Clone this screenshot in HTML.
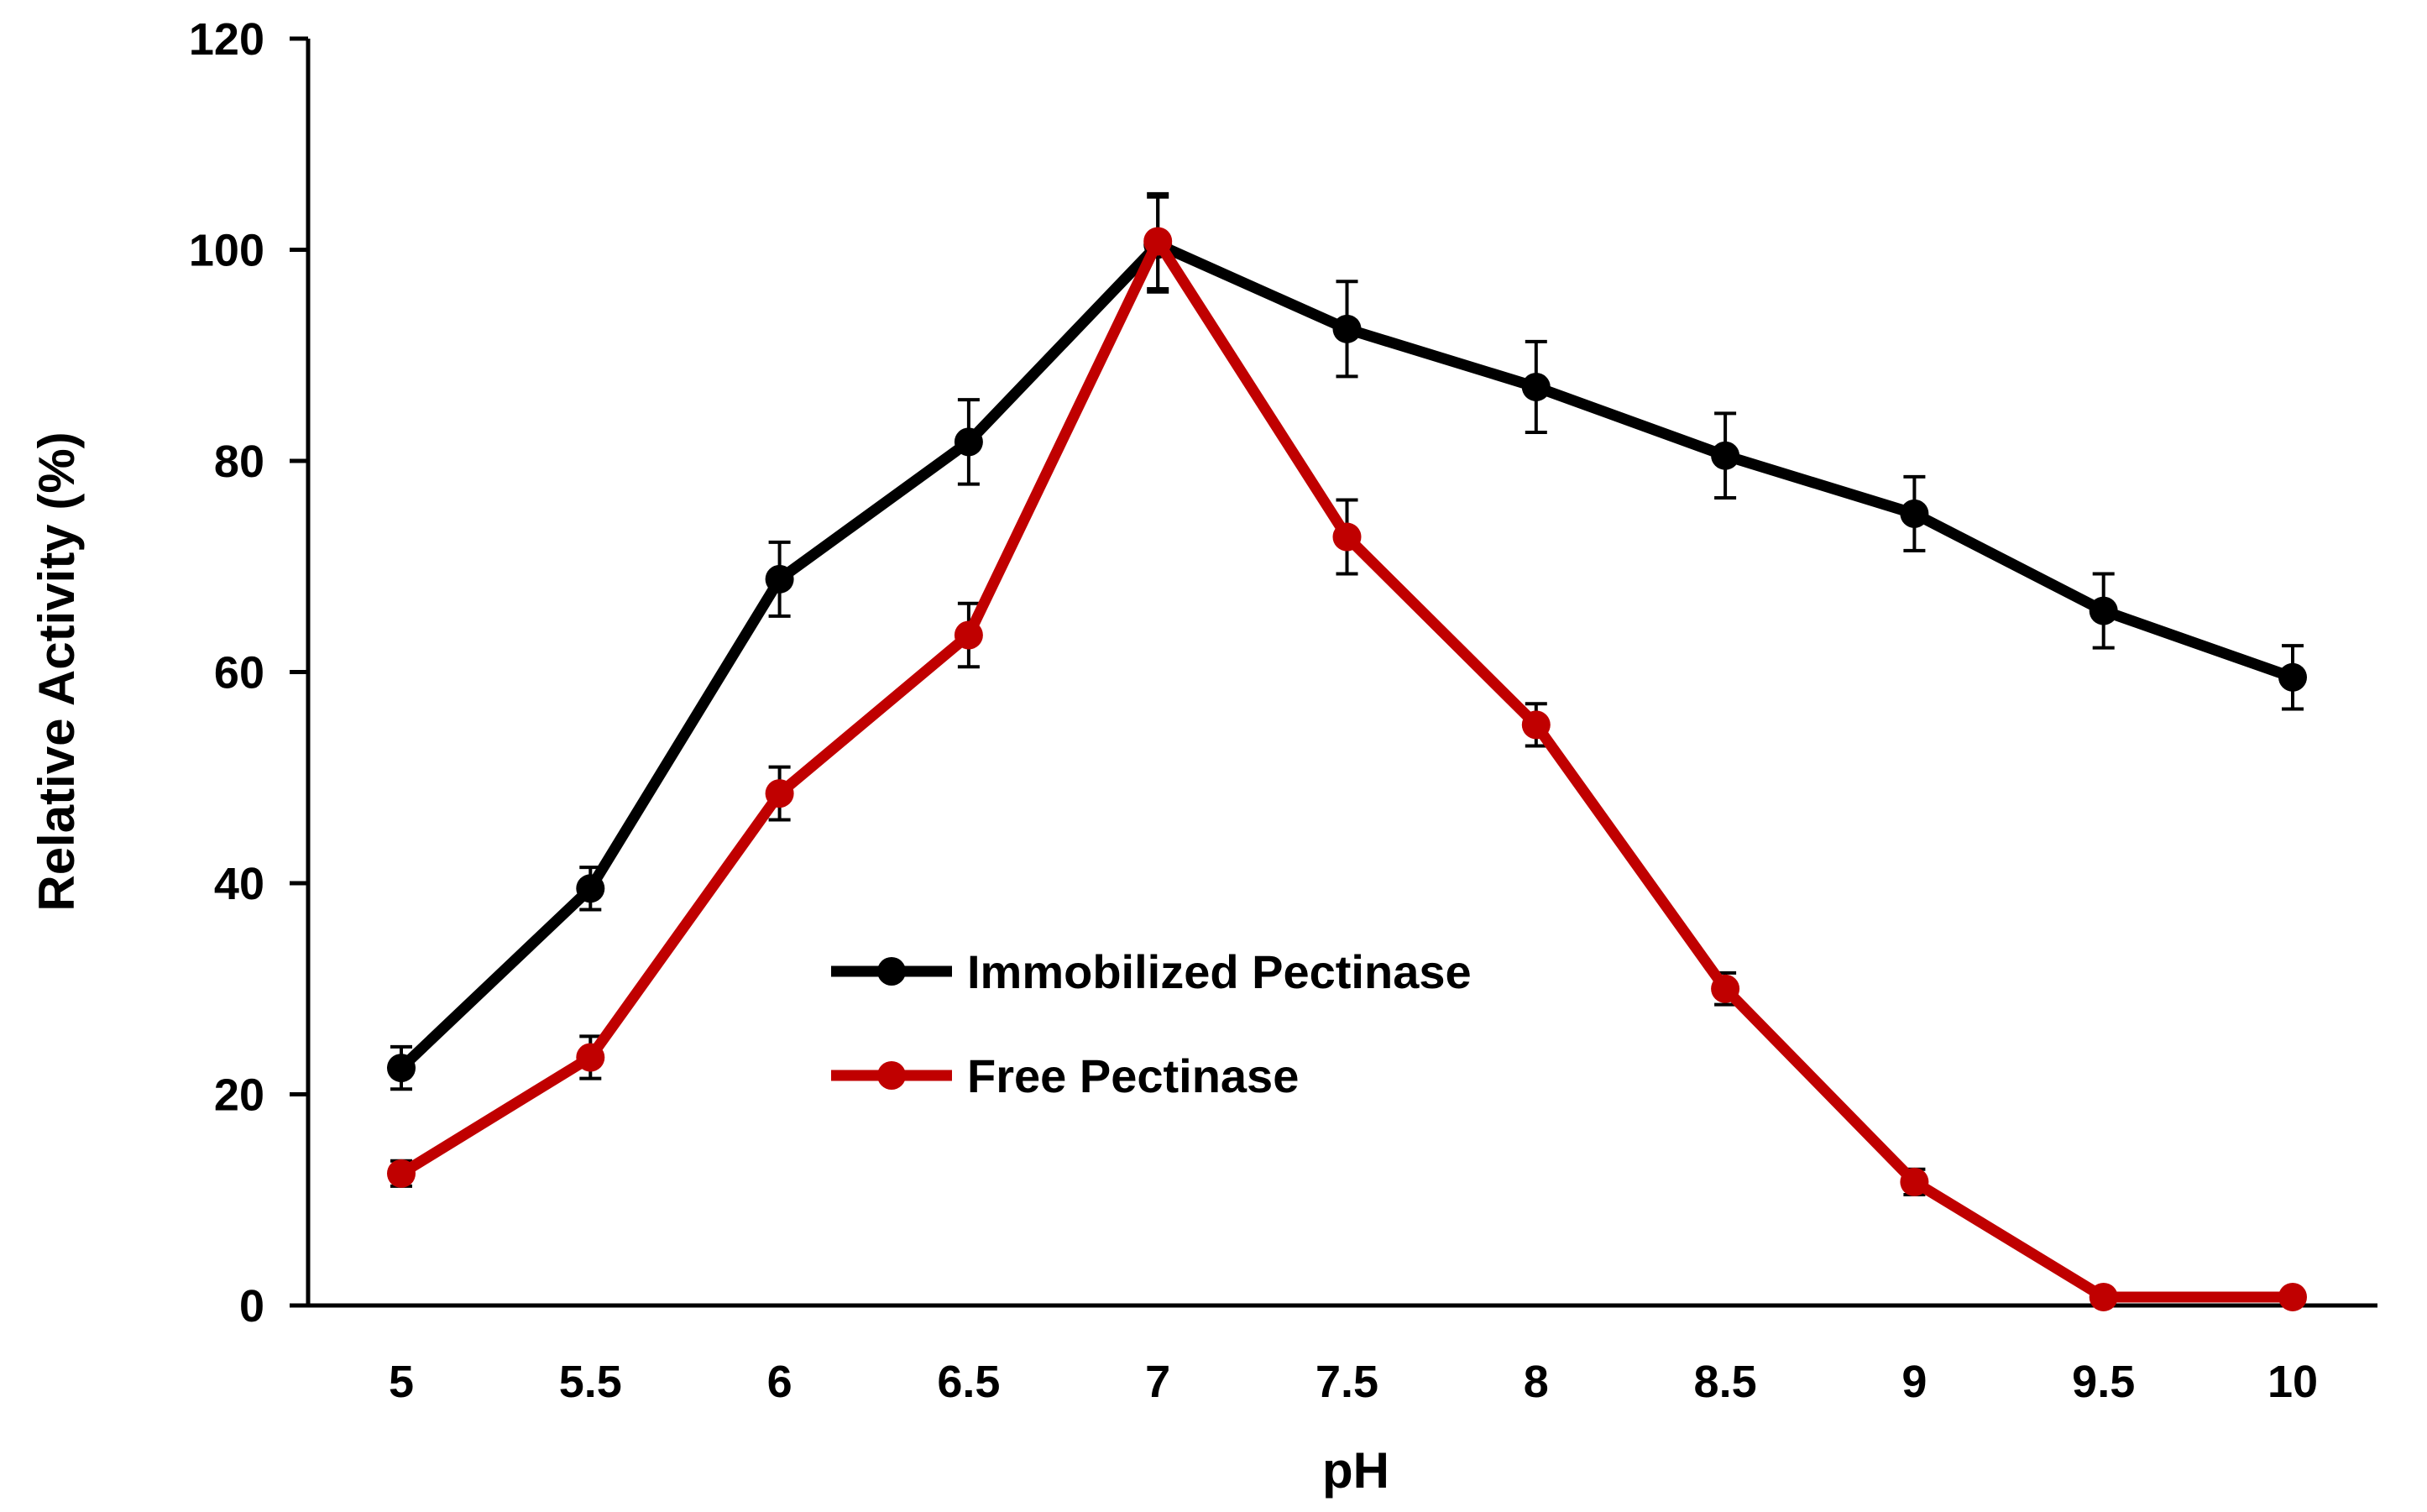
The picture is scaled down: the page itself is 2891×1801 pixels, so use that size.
<!DOCTYPE html>
<html><head><meta charset="utf-8"><style>
html,body{margin:0;padding:0;background:#fff;}
svg{display:block;font-family:"Liberation Sans",sans-serif;font-weight:bold;}
</style></head><body>
<svg id="chart" width="2891" height="1801" viewBox="0 0 2891 1801" xmlns="http://www.w3.org/2000/svg"></svg>
<script>
const categories=[5,5.5,6,6.5,7,7.5,8,8.5,9,9.5,10];
const xTickLabels=["5","5.5","6","6.5","7","7.5","8","8.5","9","9.5","10"];
const yTicks=[0,20,40,60,80,100,120];
const immobilized=[22.5,39.5,68.8,81.8,100.5,92.5,87,80.5,75,65.8,59.5];
const immobilizedErr=[2,2,3.5,4,4.5,4.5,4.3,4,3.5,3.5,3];
const free=[12.5,23.5,48.5,63.5,100.8,72.8,55,30,11.7,0.8,0.8];
const freeErr=[1.2,2,2.5,3,4.5,3.5,2,1.5,1.2,0.5,0.5];

const svg=document.getElementById('chart');
const NS='http://www.w3.org/2000/svg';
const X0=367,X1=2832,Y0=1555,YT=46;
function xs(v){return 478+(v-5)/5*(2731-478);}
function ys(v){return Y0-(v/120)*(Y0-YT);}
function mk(tag,attrs,parent){const e=document.createElementNS(NS,tag);for(const k in attrs)e.setAttribute(k,attrs[k]);(parent||svg).appendChild(e);return e;}

let a=mk('line',{x1:X0,y1:YT,x2:X0,y2:Y0,stroke:'#000','stroke-width':5});


a=mk('line',{x1:345,y1:Y0,x2:X1,y2:Y0,stroke:'#000','stroke-width':5});


yTicks.forEach(t=>{
  const y=ys(t);
  const tk=mk('line',{x1:345,y1:y,x2:X0,y2:y,stroke:'#000','stroke-width':5});
  
  
  const tx=mk('text',{x:315,y:y+19,'text-anchor':'end','font-size':54});
  tx.textContent=t;
  
  
});
categories.forEach((c,i)=>{
  const tx=mk('text',{x:xs(c),y:1664,'text-anchor':'middle','font-size':54});
  tx.textContent=xTickLabels[i];
  
  
});
let t=mk('text',{x:1615,y:1772,'text-anchor':'middle','font-size':60});
t.textContent='pH';


t=mk('text',{x:0,y:0,'text-anchor':'middle','font-size':60,transform:'translate(88,800) rotate(-90)'});
t.textContent='Relative Activity (%)';



function series(vals,errs,color,name){
  const g=mk('g',{});
  
  
  vals.forEach((v,i)=>{
    const x=xs(categories[i]),e=errs[i];
    const b=mk('path',{d:`M${x} ${ys(v-e)}V${ys(v+e)}M${x-13} ${ys(v-e)}H${x+13}M${x-13} ${ys(v+e)}H${x+13}`,stroke:'#000','stroke-width':4,fill:'none'},g);
    
    
  });
  const p=mk('polyline',{points:vals.map((v,i)=>xs(categories[i])+','+ys(v)).join(' '),fill:'none',stroke:color,'stroke-width':13,'stroke-linejoin':'round'},g);
  
  
  vals.forEach((v,i)=>{
    const c=mk('circle',{cx:xs(categories[i]),cy:ys(v),r:17,fill:color},g);
    
    
  });
}
series(immobilized,immobilizedErr,'#000','immobilized');
series(free,freeErr,'#c00000','free');

function legend(y,color,label,name){
  const g=mk('g',{});
  
  
  mk('line',{x1:990,y1:y,x2:1134,y2:y,stroke:color,'stroke-width':13},g);
  mk('circle',{cx:1062,cy:y,r:17,fill:color},g);
  const tx=mk('text',{x:1152,y:y+20,'font-size':56},g);
  tx.textContent=label;
}
legend(1157,'#000','Immobilized Pectinase','legend-entry-immobilized');
legend(1281,'#c00000','Free Pectinase','legend-entry-free');
</script>
</body></html>
